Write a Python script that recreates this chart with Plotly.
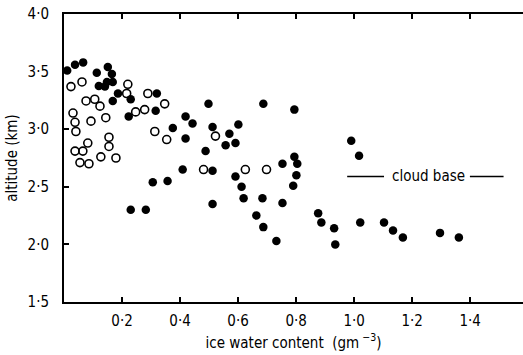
import plotly.graph_objects as go

# Filled circles
filled_x = [0.011, 0.038, 0.066, 0.113, 0.151, 0.165, 0.120, 0.141, 0.148, 0.168,
            0.186, 0.168, 0.230, 0.320, 0.316, 0.223, 0.419, 0.375, 0.443, 0.419,
            0.498, 0.512, 0.488, 0.570, 0.557, 0.591, 0.601, 0.409, 0.512, 0.591,
            0.612, 0.619, 0.687, 0.794, 0.753, 0.794, 0.804, 0.801, 0.790, 0.684,
            0.753, 0.663, 0.687, 0.732, 0.876, 0.887, 0.931, 0.935, 0.990, 1.017,
            1.021, 1.103, 1.134, 1.168, 1.296, 1.361, 0.230, 0.282, 0.306, 0.357,
            0.512]
filled_y = [3.51, 3.56, 3.58, 3.49, 3.54, 3.48, 3.375, 3.37, 3.41, 3.41,
            3.31, 3.245, 3.26, 3.31, 3.16, 3.11, 3.11, 3.01, 3.05, 2.92,
            3.22, 3.02, 2.81, 2.96, 2.86, 2.88, 3.04, 2.65, 2.64, 2.59,
            2.50, 2.40, 3.22, 3.17, 2.70, 2.76, 2.70, 2.60, 2.51, 2.40,
            2.36, 2.25, 2.15, 2.03, 2.27, 2.19, 2.14, 2.00, 2.90, 2.77,
            2.19, 2.19, 2.12, 2.06, 2.10, 2.06, 2.30, 2.30, 2.54, 2.55,
            2.35]

# Open circles
open_x = [0.024, 0.062, 0.076, 0.106, 0.124, 0.220, 0.216, 0.289, 0.347, 0.247,
          0.278, 0.031, 0.038, 0.041, 0.093, 0.144, 0.313, 0.354, 0.155, 0.155,
          0.082, 0.038, 0.065, 0.055, 0.086, 0.127, 0.179, 0.522, 0.481, 0.625,
          0.698]
open_y = [3.37, 3.41, 3.245, 3.26, 3.20, 3.39, 3.31, 3.31, 3.22, 3.15,
          3.17, 3.14, 3.06, 2.98, 3.07, 3.10, 2.98, 2.91, 2.93, 2.85,
          2.88, 2.81, 2.81, 2.71, 2.70, 2.76, 2.75, 2.94, 2.65, 2.65,
          2.65]

x_tickvals = [0.2, 0.4, 0.6, 0.8, 1.0, 1.2, 1.4]
x_ticktext = ["0·2", "0·4", "0·6", "0·8", "1·0", "1·2", "1·4"]
y_tickvals = [1.5, 2.0, 2.5, 3.0, 3.5, 4.0]
y_ticktext = ["1·5", "2·0", "2·5", "3·0", "3·5", "4·0"]

cloud_base_label = "cloud base"
cloud_base_y = 2.59

font_family = "DejaVu Sans Condensed, DejaVu Sans, sans-serif"

fig = go.Figure()
fig.add_trace(go.Scatter(
    x=open_x, y=open_y, mode="markers",
    marker=dict(symbol="circle-open", size=8, color="black", line=dict(width=1.6, color="black")),
    showlegend=False, hoverinfo="skip"))
fig.add_trace(go.Scatter(
    x=filled_x, y=filled_y, mode="markers",
    marker=dict(symbol="circle", size=8.5, color="black"),
    showlegend=False, hoverinfo="skip"))

# cloud base label with lines either side
fig.add_annotation(x=1.258, y=cloud_base_y, text=cloud_base_label, showarrow=False,
                   font=dict(size=15, color="black", family=font_family),
                   xanchor="center", yanchor="middle")
fig.add_shape(type="line", x0=0.976, x1=1.103, y0=cloud_base_y, y1=cloud_base_y,
              line=dict(color="black", width=1.5))
fig.add_shape(type="line", x0=1.399, x1=1.515, y0=cloud_base_y, y1=cloud_base_y,
              line=dict(color="black", width=1.5))

fig.update_layout(
    width=523, height=355,
    margin=dict(l=64, r=0, t=14, b=53),
    paper_bgcolor="white", plot_bgcolor="white",
    font=dict(family=font_family, size=14, color="black"),
    xaxis=dict(
        range=[0, 1.582], tickvals=x_tickvals, ticktext=x_ticktext,
        ticks="inside", ticklen=5, tickwidth=1.5, tickcolor="black",
        showline=True, linecolor="black", linewidth=2, mirror="ticks",
        showgrid=False, zeroline=False, ticklabelstandoff=4,
        tickfont=dict(size=15), automargin=False, ticklabeloverflow="allow",
        title=dict(text="ice water content  (gm<sup> −3</sup>)", font=dict(size=15), standoff=8),
    ),
    yaxis=dict(
        range=[1.5, 4.0], tickvals=y_tickvals, ticktext=y_ticktext,
        ticks="inside", ticklen=5, tickwidth=1.5, tickcolor="black",
        showline=True, linecolor="black", linewidth=2, mirror=False,
        showgrid=False, zeroline=False, ticklabelstandoff=10,
        tickfont=dict(size=15), automargin=False, ticklabeloverflow="allow",
        title=dict(text="altitude (km)", font=dict(size=15), standoff=6),
    ),
)

fig.write_html("out.html", config={"displayModeBar": False},
               post_script="document.body.style.margin='0px';document.body.style.overflow='hidden';")
